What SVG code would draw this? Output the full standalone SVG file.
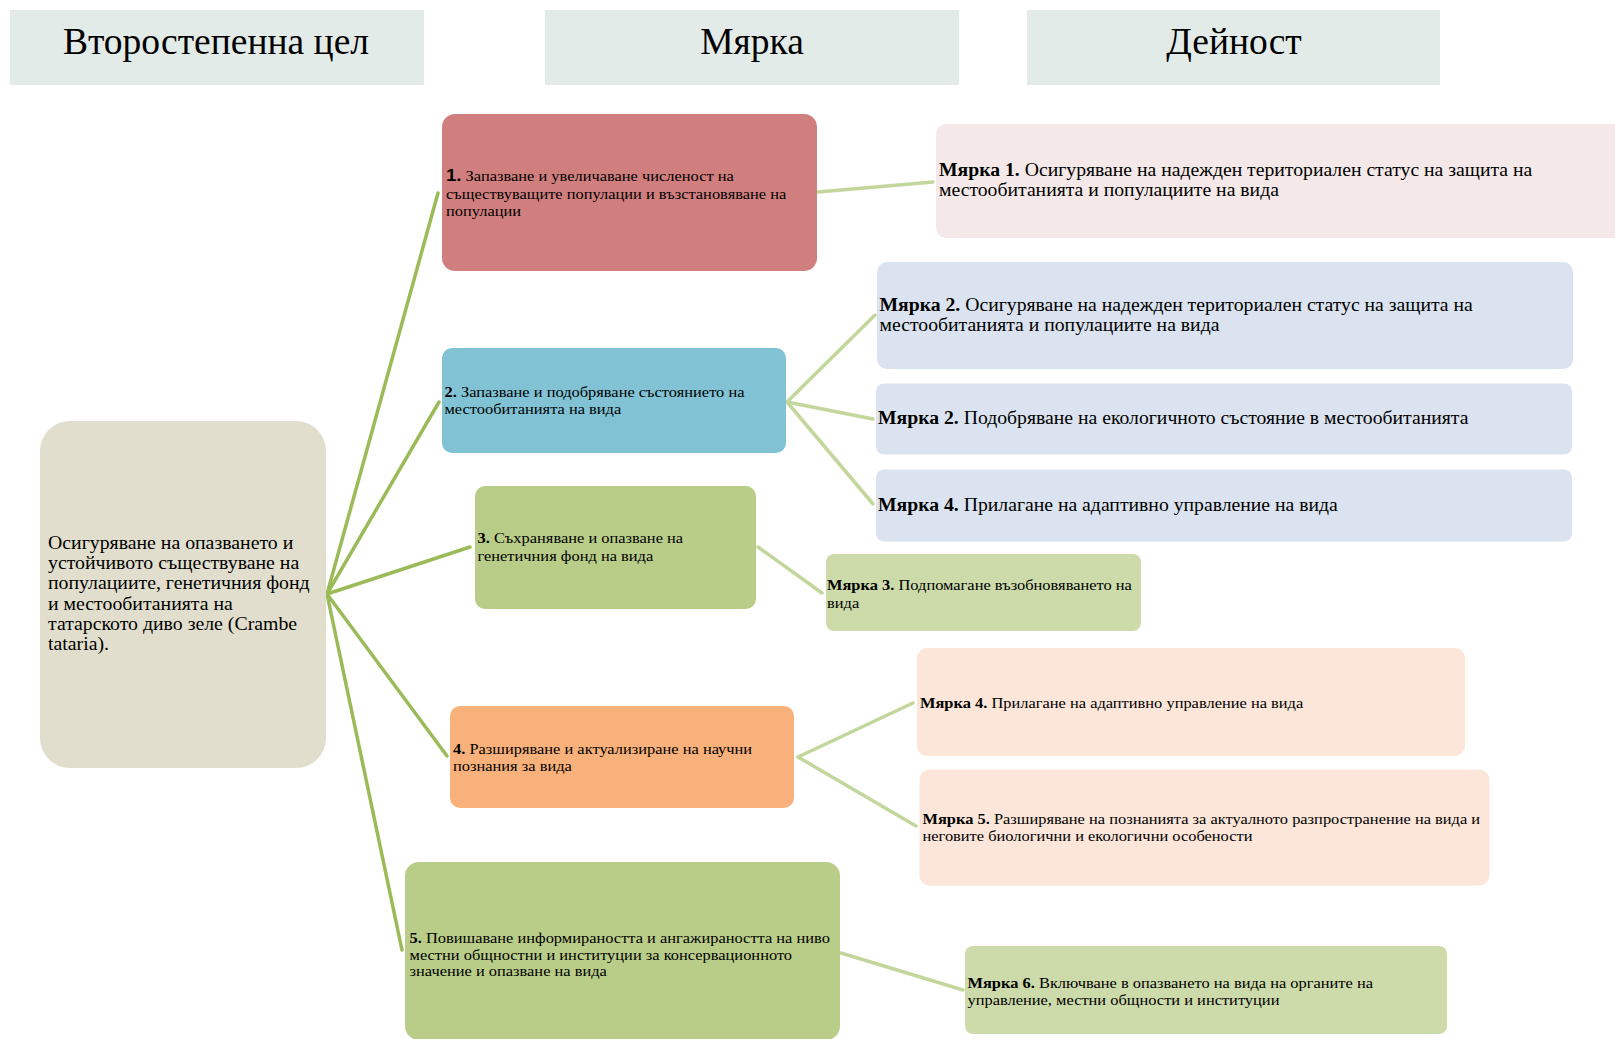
<svg xmlns="http://www.w3.org/2000/svg" width="1615" height="1039" viewBox="0 0 1615 1039">
<style>
text{font-family:"Liberation Serif","Times New Roman",serif;fill:#000}
.hdr{fill:#E3EBE8}
.htx{font-size:37.5px;text-anchor:middle}
.t18{font-size:18px}
.t15{font-size:15px}
.b{font-weight:bold}
.c1{stroke:#9BBB59;stroke-width:3.5;fill:none;stroke-linecap:round}
.c2{stroke:#C3D69B;stroke-width:3.5;fill:none;stroke-linecap:round}
</style>
<rect width="1615" height="1039" fill="#FFFFFF"/>
<g id="headers">
<g id="h1"><rect class="hdr" x="10" y="10" width="414" height="75"/><text class="htx" x="216" y="54">Второстепенна цел</text></g>
<g id="h2"><rect class="hdr" x="545" y="10" width="414" height="75"/><text class="htx" x="752" y="54">Мярка</text></g>
<g id="h3"><rect class="hdr" x="1027" y="10" width="413" height="75"/><text class="htx" x="1234" y="54">Дейност</text></g>
</g>
<g id="connectors">
<path class="c1" d="M327,594 L438,193"/>
<path class="c1" d="M327,594 L439,402"/>
<path class="c1" d="M327,594 L470,547"/>
<path class="c1" d="M327,594 L447,756"/>
<path class="c1" d="M327,594 L402,950"/>
<path class="c2" d="M818,192 L933,182"/>
<path class="c2" d="M787,402 L875,315"/>
<path class="c2" d="M787,402 L873,419"/>
<path class="c2" d="M787,402 L873,504"/>
<path class="c2" d="M758,547 L822,593"/>
<path class="c2" d="M798,757 L913,703"/>
<path class="c2" d="M798,757 L916,826"/>
<path class="c2" d="M841,953 L963,990"/>
</g>
<g id="root">
<rect x="40" y="421" width="286" height="347" rx="30" fill="#E1DECD"/>
<text class="t18" x="48" transform="matrix(1.1 0 0 1 -4.8 0)">
<tspan x="48" y="549">Осигуряване на опазването и</tspan>
<tspan x="48" y="569">устойчивото съществуване на</tspan>
<tspan x="48" y="589.5">популациите, генетичния фонд</tspan>
<tspan x="48" y="610">и местообитанията на</tspan>
<tspan x="48" y="630">татарското диво зеле (Crambe</tspan>
<tspan x="48" y="650">tataria).</tspan>
</text>
</g>
<g id="n1">
<rect x="442" y="114" width="375" height="157" rx="13" fill="#D17F7E"/>
<text class="t15" transform="matrix(1.095 0 0 1 -42.37 0)"><tspan x="446" y="181.5" style="font-family:'Liberation Sans',Arial,sans-serif;font-size:17px;font-weight:bold">1.</tspan><tspan> Запазване и увеличаване численост на</tspan><tspan x="446" y="199">съществуващите популации и възстановяване на</tspan><tspan x="446" y="216.5">популации</tspan></text>
</g>
<g id="n2">
<rect x="442" y="348" width="344" height="105" rx="10" fill="#81C3D5"/>
<text class="t15" transform="matrix(1.095 0 0 1 -42.23 0)"><tspan x="444.5" y="397.5" class="b">2.</tspan><tspan> Запазване и подобряване състоянието на</tspan><tspan x="444.5" y="414.5">местообитанията на вида</tspan></text>
</g>
<g id="n3">
<rect x="475" y="486" width="281" height="123" rx="10" fill="#B9CD89"/>
<text class="t15" transform="matrix(1.095 0 0 1 -45.36 0)"><tspan x="477.5" y="543.5" class="b">3.</tspan><tspan> Съхраняване и опазване на</tspan><tspan x="477.5" y="561">генетичния фонд на вида</tspan></text>
</g>
<g id="n4">
<rect x="450" y="706" width="344" height="102" rx="10" fill="#F8B17B"/>
<text class="t15" transform="matrix(1.095 0 0 1 -43.04 0)"><tspan x="453" y="754.5" class="b">4.</tspan><tspan> Разширяване и актуализиране на научни</tspan><tspan x="453" y="771.5">познания за вида</tspan></text>
</g>
<g id="n5">
<rect x="405" y="862" width="435" height="178" rx="14" fill="#B9CD89"/>
<text class="t15" transform="matrix(1.095 0 0 1 -38.9 0)"><tspan x="409.5" y="943" class="b">5.</tspan><tspan> Повишаване информираността и ангажираността на ниво</tspan><tspan x="409.5" y="960">местни общностни и институции за консервационното</tspan><tspan x="409.5" y="976.5">значение и опазване на вида</tspan></text>
</g>
<g id="m1">
<rect x="936" y="124" width="700" height="114" rx="10" fill="#F4E9E8"/>
<text class="t18" transform="matrix(1.095 0 0 1 -89.21 0)"><tspan x="939" y="176" class="b">Мярка 1.</tspan><tspan> Осигуряване на надежден териториален статус на защита на</tspan><tspan x="939" y="196">местообитанията и популациите на вида</tspan></text>
</g>
<g id="m2a">
<rect x="877" y="262" width="696" height="107" rx="10" fill="#DAE3EF"/>
<text class="t18" transform="matrix(1.095 0 0 1 -83.55 0)"><tspan x="879.5" y="311" class="b">Мярка 2.</tspan><tspan> Осигуряване на надежден териториален статус на защита на</tspan><tspan x="879.5" y="331">местообитанията и популациите на вида</tspan></text>
</g>
<g id="m2b">
<rect x="876" y="383.5" width="696" height="71" rx="8" fill="#DAE3EF"/>
<text class="t18" transform="matrix(1.095 0 0 1 -83.41 0)"><tspan x="878" y="424" class="b">Мярка 2.</tspan><tspan> Подобряване на екологичното състояние в местообитанията</tspan></text>
</g>
<g id="m4a">
<rect x="876" y="469.5" width="696" height="72" rx="8" fill="#DAE3EF"/>
<text class="t18" transform="matrix(1.095 0 0 1 -83.41 0)"><tspan x="878" y="511" class="b">Мярка 4.</tspan><tspan> Прилагане на адаптивно управление на вида</tspan></text>
</g>
<g id="m3">
<rect x="826" y="554" width="315" height="77" rx="8" fill="#CDDBAA"/>
<text class="t15" transform="matrix(1.095 0 0 1 -78.57 0)"><tspan x="827" y="590.5" class="b">Мярка 3.</tspan><tspan> Подпомагане възобновяването на</tspan><tspan x="827" y="608">вида</tspan></text>
</g>
<g id="m4b">
<rect x="917" y="648" width="548" height="108" rx="10" fill="#FBE6D9"/>
<text class="t15" transform="matrix(1.095 0 0 1 -87.4 0)"><tspan x="920" y="708" class="b">Мярка 4.</tspan><tspan> Прилагане на адаптивно управление на вида</tspan></text>
</g>
<g id="m5">
<rect x="919.5" y="769.5" width="570" height="116" rx="10" fill="#FBE6D9"/>
<text class="t15" transform="matrix(1.095 0 0 1 -87.64 0)"><tspan x="922.5" y="824.5" class="b">Мярка 5.</tspan><tspan> Разширяване на познанията за актуалното разпространение на вида и</tspan><tspan x="922.5" y="841.5">неговите биологични и екологични особености</tspan></text>
</g>
<g id="m6">
<rect x="965" y="946" width="482" height="88" rx="8" fill="#CDDBAA"/>
<text class="t15" transform="matrix(1.095 0 0 1 -91.91 0)"><tspan x="967.5" y="988" class="b">Мярка 6.</tspan><tspan> Включване в опазването на вида на органите на</tspan><tspan x="967.5" y="1005">управление, местни общности и институции</tspan></text>
</g>
</svg>
